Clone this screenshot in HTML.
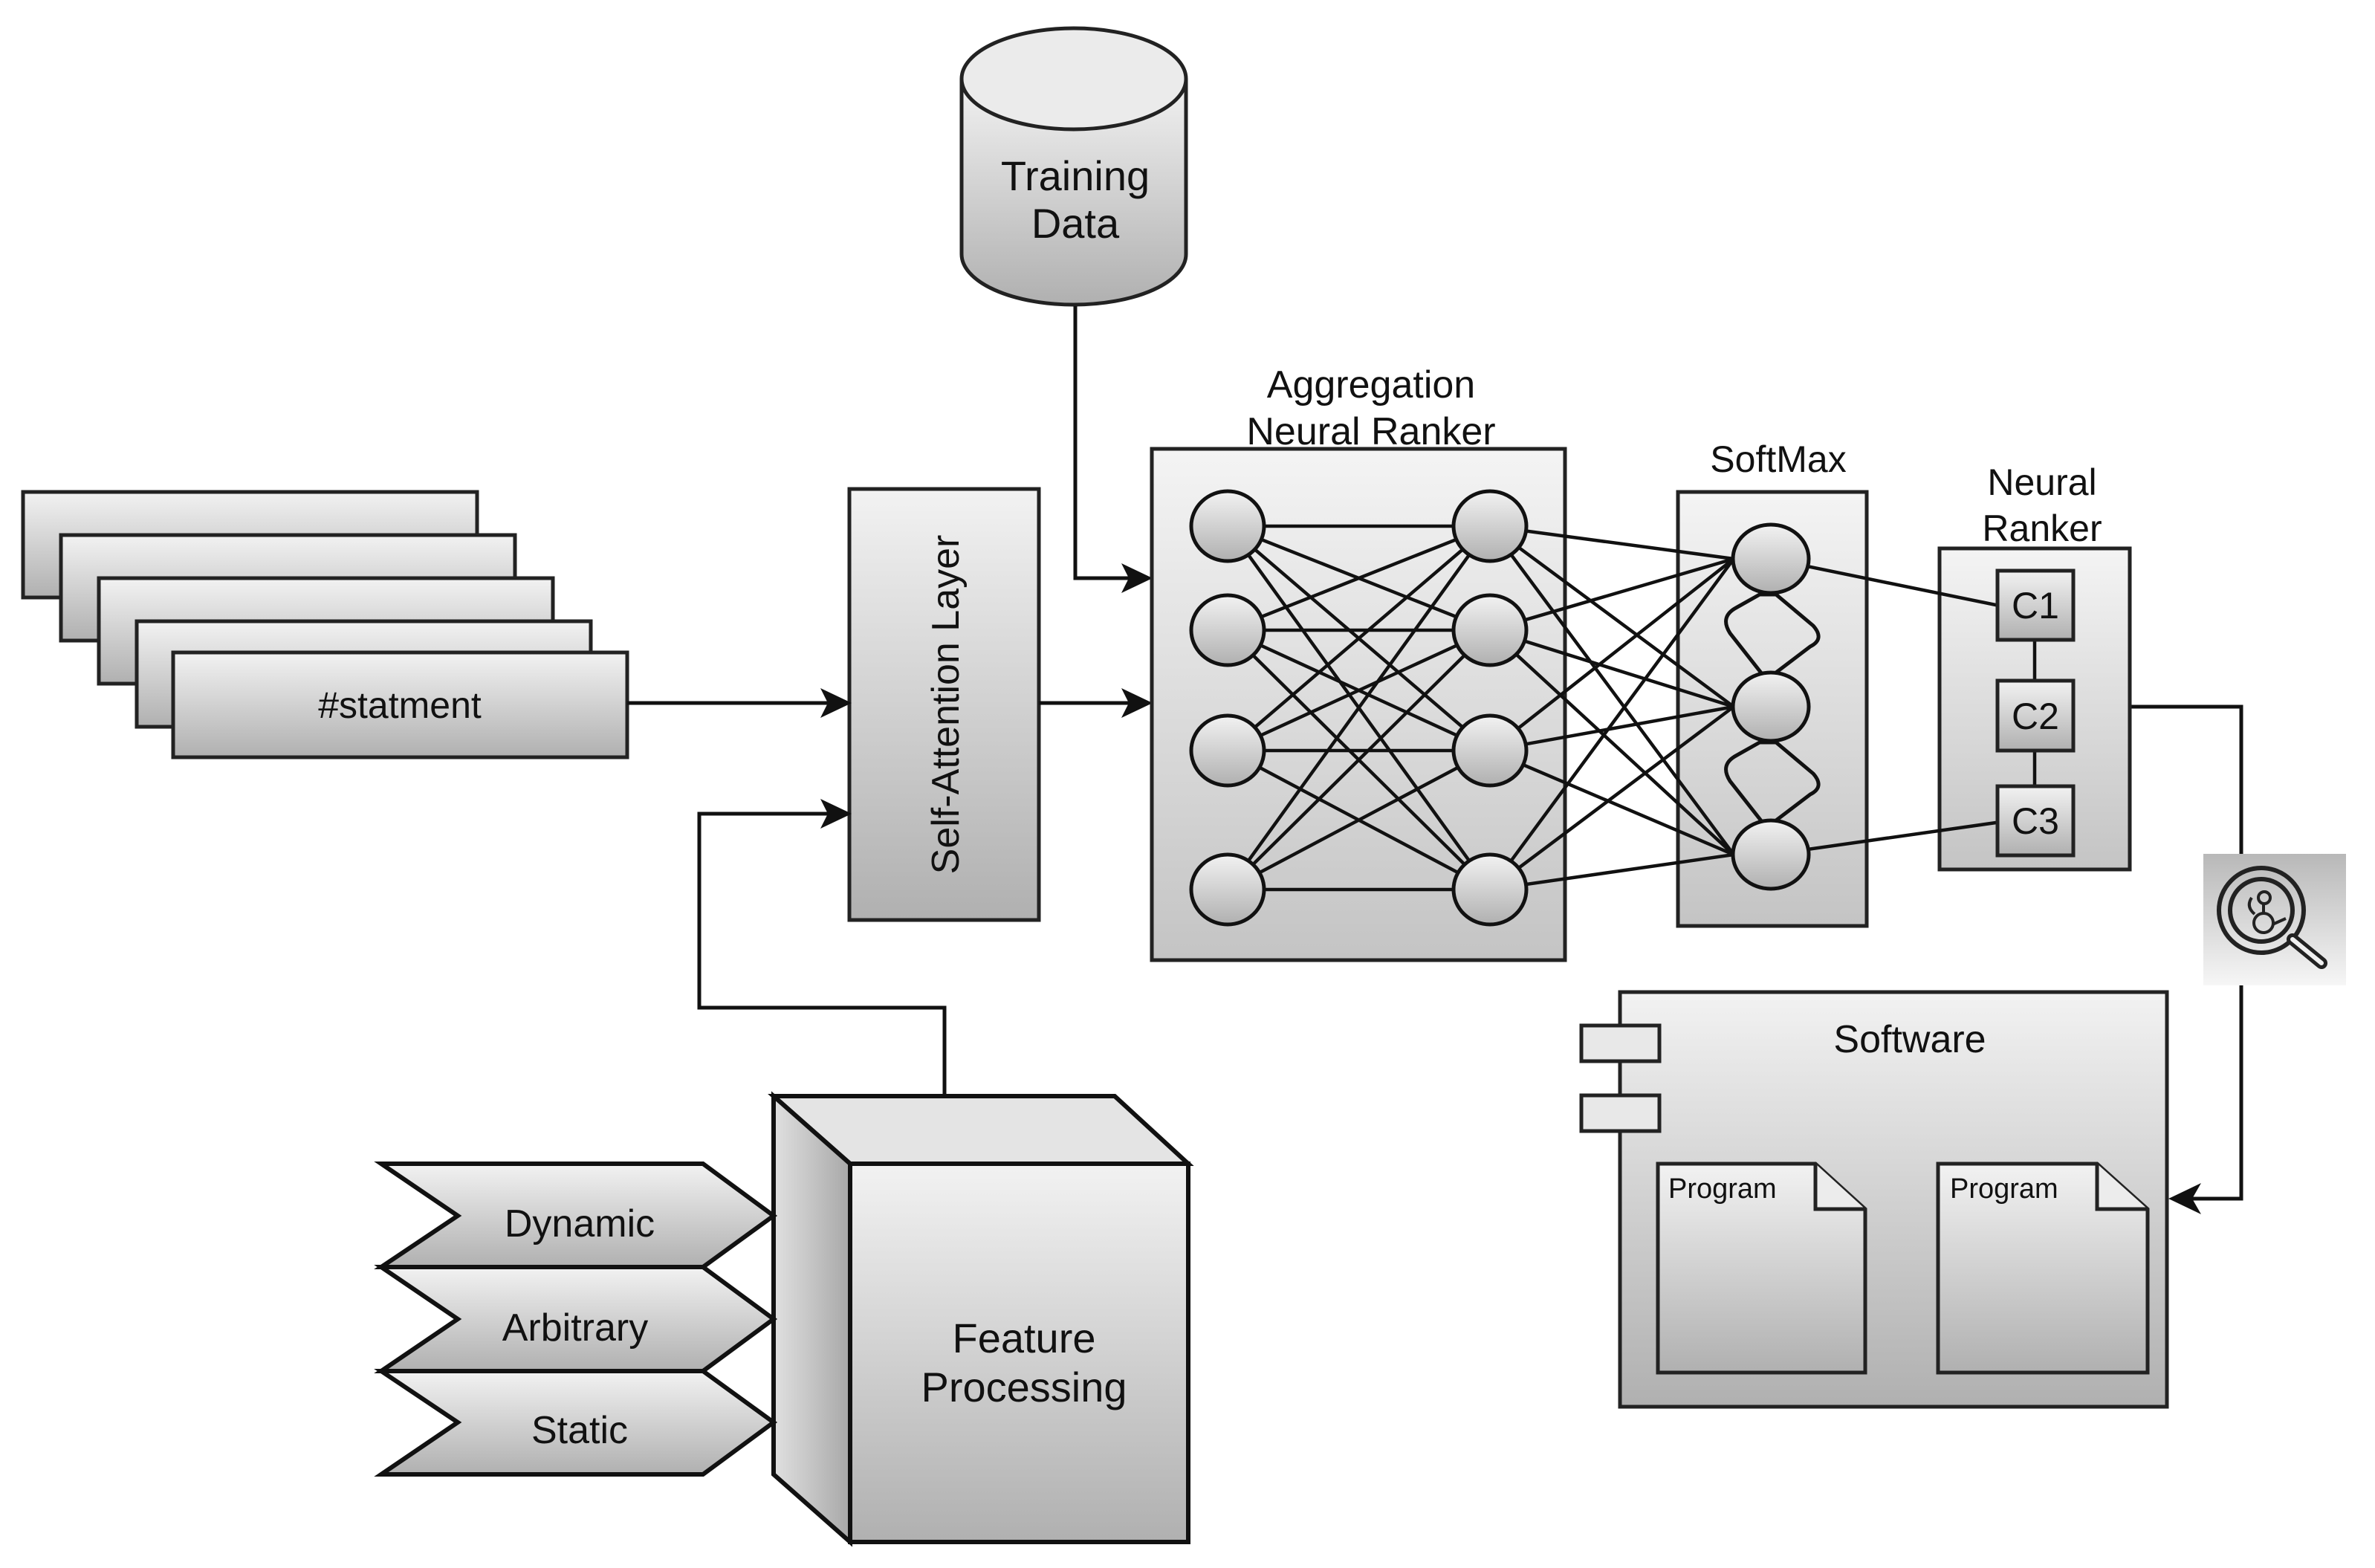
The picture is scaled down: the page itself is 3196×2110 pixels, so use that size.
<!DOCTYPE html>
<html><head><meta charset="utf-8"><style>
html,body{margin:0;padding:0;background:#fff;}
svg{display:block;}
text{font-family:"Liberation Sans",Arial,sans-serif;fill:#111;}
</style></head><body>
<svg width="3196" height="2110" viewBox="0 0 3196 2110" xmlns="http://www.w3.org/2000/svg">
<defs>
<linearGradient id="g" x1="0" y1="0" x2="0" y2="1"><stop offset="0" stop-color="#f2f2f2"/><stop offset="1" stop-color="#b0b0b0"/></linearGradient>
<linearGradient id="gl" x1="0" y1="0" x2="0" y2="1"><stop offset="0" stop-color="#f4f4f4"/><stop offset="1" stop-color="#c4c4c4"/></linearGradient>
<linearGradient id="gm" x1="0" y1="0" x2="0" y2="1"><stop offset="0" stop-color="#b8b8b8"/><stop offset="1" stop-color="#f6f6f6"/></linearGradient>
<linearGradient id="gs" x1="0" y1="0" x2="1" y2="0"><stop offset="0" stop-color="#e0e0e0"/><stop offset="1" stop-color="#a8a8a8"/></linearGradient>
</defs>

<g stroke="#222" stroke-width="5" fill="url(#g)">
<path d="M1294,106 L1294,342 A151,68 0 0 0 1596,342 L1596,106" />
<ellipse cx="1445" cy="106" rx="151" ry="68" fill="#ebebeb"/>
</g>
<text x="1447" y="256" font-size="56" text-anchor="middle">Training</text>
<text x="1447" y="320" font-size="56" text-anchor="middle">Data</text>

<g stroke="#222" stroke-width="5" fill="url(#g)">
<rect x="31" y="662" width="611" height="142"/>
<rect x="82" y="720" width="611" height="142"/>
<rect x="133" y="778" width="611" height="142"/>
<rect x="184" y="836" width="611" height="142"/>
<rect x="233" y="878" width="611" height="141"/>
</g>
<text x="538" y="966" font-size="50" text-anchor="middle">#statment</text>

<rect x="1143" y="658" width="255" height="580" stroke="#222" stroke-width="5" fill="url(#g)"/>
<text transform="translate(1290,948) rotate(-90)" font-size="52" text-anchor="middle">Self-Attention Layer</text>

<g stroke="#111" stroke-width="5" fill="none">
<path d="M844,946 L1130,946"/>
<path d="M1398,946 L1535,946"/>
<path d="M1447,412 L1447,778 L1535,778"/>
<path d="M1271,1475 L1271,1356 L941,1356 L941,1095 L1130,1095"/>
<path d="M2864,951 L3016,951 L3016,1613 L2930,1613"/>
</g>
<g fill="#111">
<path d="M1146,946 L1104,926 L1114,946 L1104,966 Z"/>
<path d="M1551,946 L1509,926 L1519,946 L1509,966 Z"/>
<path d="M1551,778 L1509,758 L1519,778 L1509,798 Z"/>
<path d="M1146,1095 L1104,1075 L1114,1095 L1104,1115 Z"/>
<path d="M2918,1613 L2962,1592 L2950,1613 L2962,1634 Z"/>
</g>

<rect x="1550" y="604" width="556" height="688" stroke="#222" stroke-width="5" fill="url(#gl)"/>
<text x="1845" y="535" font-size="52" text-anchor="middle">Aggregation</text>
<text x="1845" y="598" font-size="52" text-anchor="middle">Neural Ranker</text>

<rect x="2258" y="662" width="254" height="584" stroke="#222" stroke-width="5" fill="url(#gl)"/>
<text x="2393" y="635" font-size="50" text-anchor="middle">SoftMax</text>

<rect x="2610" y="738" width="256" height="432" stroke="#222" stroke-width="5" fill="url(#gl)"/>
<text x="2748" y="666" font-size="50" text-anchor="middle">Neural</text>
<text x="2748" y="728" font-size="50" text-anchor="middle">Ranker</text>

<g stroke="#111" stroke-width="4.5">
<path d="M1652,708 L2005,708 M1652,708 L2005,848 M1652,708 L2005,1010 M1652,708 L2005,1197
M1652,848 L2005,708 M1652,848 L2005,848 M1652,848 L2005,1010 M1652,848 L2005,1197
M1652,1010 L2005,708 M1652,1010 L2005,848 M1652,1010 L2005,1010 M1652,1010 L2005,1197
M1652,1197 L2005,708 M1652,1197 L2005,848 M1652,1197 L2005,1010 M1652,1197 L2005,1197"/>
<path d="M2005,708 L2333,752 M2005,708 L2333,951 M2005,708 L2333,1150
M2005,848 L2333,752 M2005,848 L2333,951 M2005,848 L2333,1150
M2005,1010 L2333,752 M2005,1010 L2333,951 M2005,1010 L2333,1150
M2005,1197 L2333,752 M2005,1197 L2333,951 M2005,1197 L2333,1150"/>
<path d="M2383,752 L2700,817 M2383,1150 L2700,1105"/>
<path d="M2738,861 L2738,916 M2738,1010 L2738,1056"/>
</g>

<g stroke="#111" stroke-width="5" fill="none">
<path d="M2368,800 L2390,800 L2440,842 Q2456,860 2436,870 L2386,908 L2372,908 L2328,852 Q2314,830 2336,818 Z"/>
<path d="M2368,999 L2390,999 L2440,1041 Q2456,1059 2436,1069 L2386,1107 L2372,1107 L2328,1051 Q2314,1029 2336,1017 Z"/>
</g>

<g stroke="#111" stroke-width="5" fill="url(#g)">
<ellipse cx="1652" cy="708" rx="49" ry="47"/>
<ellipse cx="1652" cy="848" rx="49" ry="47"/>
<ellipse cx="1652" cy="1010" rx="49" ry="47"/>
<ellipse cx="1652" cy="1197" rx="49" ry="47"/>
<ellipse cx="2005" cy="708" rx="49" ry="47"/>
<ellipse cx="2005" cy="848" rx="49" ry="47"/>
<ellipse cx="2005" cy="1010" rx="49" ry="47"/>
<ellipse cx="2005" cy="1197" rx="49" ry="47"/>
<ellipse cx="2383" cy="752" rx="51" ry="46"/>
<ellipse cx="2383" cy="951" rx="51" ry="46"/>
<ellipse cx="2383" cy="1150" rx="51" ry="46"/>
</g>

<g stroke="#222" stroke-width="5" fill="url(#g)">
<rect x="2688" y="768" width="102" height="93"/>
<rect x="2688" y="916" width="102" height="94"/>
<rect x="2688" y="1058" width="102" height="93"/>
</g>
<g font-size="50" text-anchor="middle">
<text x="2739" y="832">C1</text>
<text x="2739" y="981">C2</text>
<text x="2739" y="1122">C3</text>
</g>

<rect x="2965" y="1149" width="192" height="177" fill="url(#gm)"/>
<g stroke="#222" stroke-width="6" fill="none">
<circle cx="3043" cy="1225" r="57"/>
<circle cx="3043" cy="1225" r="42"/>
<path d="M3085,1264 L3124,1296" stroke-width="16" stroke-linecap="round"/>
<circle cx="3047" cy="1208" r="8" stroke-width="4"/>
<circle cx="3046" cy="1242" r="13" stroke-width="4"/>
<path d="M3046,1216 L3046,1230 M3030,1208 Q3022,1220 3034,1230 M3058,1244 L3076,1236" stroke-width="4"/>
</g>
<path d="M3085,1264 L3124,1296" stroke="#f0f0f0" stroke-width="6" stroke-linecap="round"/>

<g stroke="#222" stroke-width="5" fill="url(#g)">
<rect x="2180" y="1335" width="736" height="558"/>
</g>
<g stroke="#222" stroke-width="5" fill="#e8e8e8">
<rect x="2128" y="1380" width="105" height="48"/>
<rect x="2128" y="1474" width="105" height="48"/>
</g>
<text x="2570" y="1416" font-size="52" text-anchor="middle">Software</text>
<g stroke="#222" stroke-width="5" fill="url(#g)">
<path d="M2231,1566 L2443,1566 L2510,1627 L2510,1847 L2231,1847 Z"/>
<path d="M2443,1566 L2443,1627 L2510,1627" fill="#ececec"/>
<path d="M2608,1566 L2822,1566 L2890,1627 L2890,1847 L2608,1847 Z"/>
<path d="M2822,1566 L2822,1627 L2890,1627" fill="#ececec"/>
</g>
<text x="2245" y="1612" font-size="38">Program</text>
<text x="2624" y="1612" font-size="38">Program</text>

<g stroke="#111" stroke-width="6" stroke-linejoin="miter">
<path d="M1041,1475 L1500,1475 L1599,1566 L1144,1566 Z" fill="#e4e4e4"/>
<path d="M1041,1475 L1144,1566 L1144,2075 L1041,1984 Z" fill="url(#gs)"/>
<rect x="1144" y="1566" width="455" height="509" fill="url(#g)"/>
</g>
<text x="1378" y="1820" font-size="56" text-anchor="middle">Feature</text>
<text x="1378" y="1886" font-size="56" text-anchor="middle">Processing</text>

<g stroke="#111" stroke-width="6" fill="url(#g)">
<path d="M513,1566 L946,1566 L1041,1636 L946,1705 L513,1705 L616,1636 Z"/>
<path d="M513,1705 L946,1705 L1041,1775 L946,1845 L513,1845 L616,1775 Z"/>
<path d="M513,1845 L946,1845 L1041,1914 L946,1984 L513,1984 L616,1914 Z"/>
</g>
<g font-size="52" text-anchor="middle">
<text x="780" y="1664">Dynamic</text>
<text x="774" y="1804">Arbitrary</text>
<text x="780" y="1942">Static</text>
</g>
</svg>
</body></html>
